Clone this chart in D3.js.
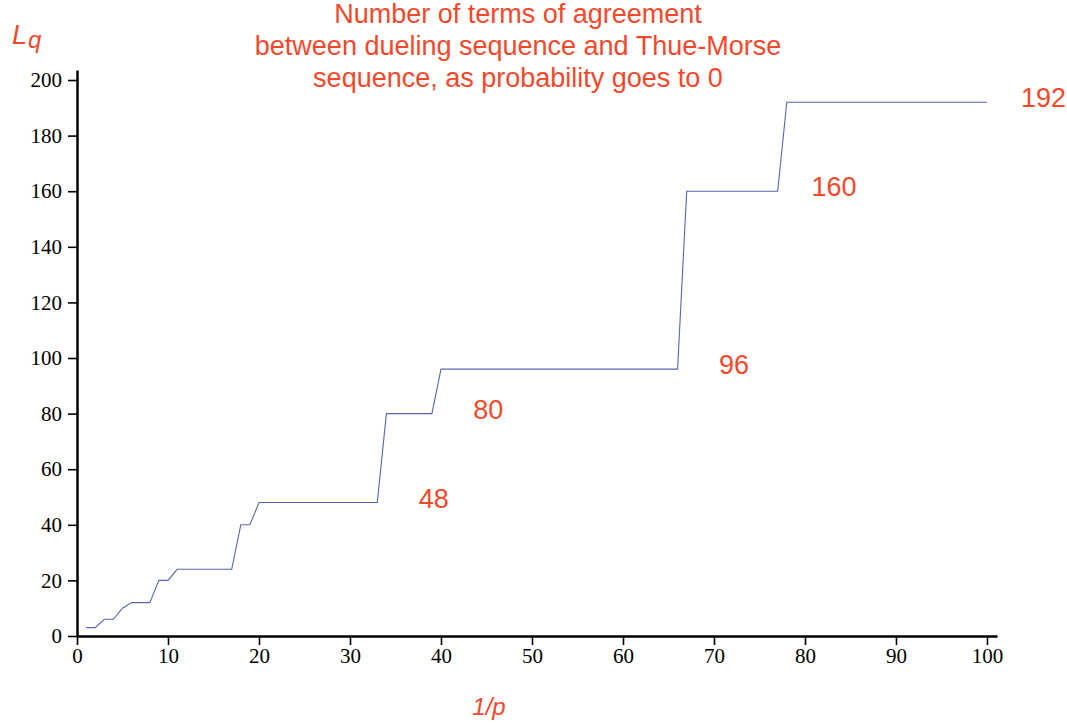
<!DOCTYPE html>
<html>
<head>
<meta charset="utf-8">
<script src="https://cdn.jsdelivr.net/npm/d3@7"></script>
<style>
  body { margin: 0; background: #fff; }
  svg { display: block; }
  .tick text { font-family: 'Liberation Serif', 'DejaVu Serif', serif; font-size: 21px; }
</style>
</head>
<body>
<svg id="chart"></svg>
<script>
// step corners of L_q against 1/p
const invP = [1, 2, 3, 4, 5, 6, 8, 9, 10, 11, 17, 18, 19, 20, 33, 34, 39, 40, 66, 67, 77, 78, 100];
const lq   = [3, 3, 6, 6, 10, 12, 12, 20, 20, 24, 24, 40, 40, 48, 48, 80, 80, 96, 96, 160, 160, 192, 192];

const xTicks = [0, 10, 20, 30, 40, 50, 60, 70, 80, 90, 100];
const yTicks = [0, 20, 40, 60, 80, 100, 120, 140, 160, 180, 200];

// plateaus that get a value label
const labelledLevels = [48, 80, 96, 160, 192];

const titleLines = [
  "Number of terms of agreement",
  "between dueling sequence and Thue-Morse",
  "sequence, as probability goes to 0"
];

const width = 1067, height = 728;
const red = "#f4482b";
const sans = "'Liberation Sans', Arial, sans-serif";

const svg = d3.select("#chart")
  .attr("width", width)
  .attr("height", height);

const x = d3.scaleLinear().domain([0, 101.1]).range([77, 997]);
const y = d3.scaleLinear().domain([0, 203.6]).range([636, 70]);

// x axis
const xAxis = svg.append("g")
  .attr("transform", `translate(0,${y(0)})`)
  .call(d3.axisBottom(x).tickValues(xTicks).tickSize(9).tickPadding(3).tickSizeOuter(0));

// y axis
const yAxis = svg.append("g")
  .attr("transform", `translate(${x(0)},0)`)
  .call(d3.axisLeft(y).tickValues(yTicks).tickSize(9).tickPadding(6).tickSizeOuter(0));

[xAxis, yAxis].forEach(g => {
  g.attr("font-size", 20).attr("font-family", "'Liberation Serif', serif");
  g.select(".domain").attr("stroke", "#000").attr("stroke-width", 2.5);
  g.selectAll(".tick line").attr("stroke", "#000").attr("stroke-width", 1.6);
  g.selectAll(".tick text").attr("fill", "#000").attr("font-size", 20);
});

// the step line
const pts = invP.map((v, i) => [v, lq[i]]);
svg.append("path")
  .datum(pts)
  .attr("fill", "none")
  .attr("stroke", "#5a64b4")
  .attr("stroke-width", 1.1)
  .attr("d", d3.line().x(d => x(d[0])).y(d => y(d[1])));

// plateau value labels, placed just past the end of each plateau
labelledLevels.forEach(level => {
  let end = 0;
  invP.forEach((v, i) => { if (lq[i] === level) end = Math.max(end, v); });
  svg.append("text")
    .attr("x", x(end + 6.2))
    .attr("y", y(level) + 5)
    .attr("text-anchor", "middle")
    .style("font-family", sans)
    .style("font-size", "27px")
    .attr("fill", red)
    .text(level);
});

// title
svg.append("text")
  .attr("x", 518)
  .attr("y", 23)
  .attr("text-anchor", "middle")
  .style("font-family", sans)
  .style("font-size", "27px")
  .attr("fill", red)
  .selectAll("tspan")
  .data(titleLines)
  .enter()
  .append("tspan")
  .attr("x", 518)
  .attr("dy", (d, i) => i === 0 ? 0 : 32)
  .text(d => d);

// y axis label L_q
const lLabel = svg.append("text")
  .attr("x", 12)
  .attr("y", 44)
  .style("font-family", sans)
  .style("font-style", "italic")
  .attr("fill", red);
lLabel.append("tspan").style("font-size", "27px").text("L");
lLabel.append("tspan").style("font-size", "24px").attr("dx", 1).attr("dy", 4).text("q");

// x axis label
svg.append("text")
  .attr("x", 489)
  .attr("y", 715)
  .attr("text-anchor", "middle")
  .style("font-family", sans)
  .style("font-style", "italic")
  .style("font-size", "24px")
  .attr("fill", red)
  .text("1/p");
</script>
</body>
</html>
